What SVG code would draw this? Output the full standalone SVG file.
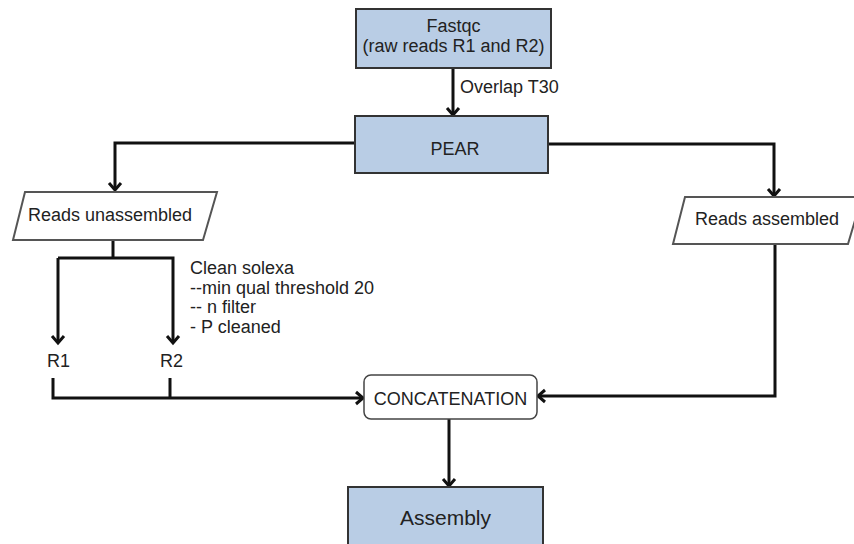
<svg xmlns="http://www.w3.org/2000/svg" width="854" height="544" viewBox="0 0 854 544">
<style>
text{font-family:"Liberation Sans",Arial,sans-serif;font-size:18px;fill:#222}
.box{fill:#b9cde5;stroke:#333;stroke-width:2}
.para{fill:#fff;stroke:#555;stroke-width:2}
.conn{fill:none;stroke:#111;stroke-width:3}
</style>
<defs>
<marker id="arr" markerUnits="userSpaceOnUse" markerWidth="16" markerHeight="16" refX="10" refY="8" orient="auto">
<path d="M3,2 L10,8 L3,14" fill="none" stroke="#111" stroke-width="3"/>
</marker>
</defs>
<rect width="854" height="544" fill="#fff"/>
<g id="connectors">
<path class="conn" d="M453,68 V115" marker-end="url(#arr)"/>
<path class="conn" d="M355,143 H115 V190" marker-end="url(#arr)"/>
<path class="conn" d="M548,144 H774 V196" marker-end="url(#arr)"/>
<path class="conn" d="M113,240 V258"/>
<path class="conn" d="M58,258 V343" marker-end="url(#arr)"/>
<path class="conn" d="M58,258 H173 V343" marker-end="url(#arr)"/>
<path class="conn" d="M53,378 V398 H363" marker-end="url(#arr)"/>
<path class="conn" d="M170,378 V398"/>
<path class="conn" d="M775,244 V396 H538" marker-end="url(#arr)"/>
<path class="conn" d="M449,419 V486" marker-end="url(#arr)"/>
<text x="460" y="93">Overlap T30</text>
<text x="190" y="274">Clean solexa</text>
<text x="190" y="293.5">--min qual threshold 20</text>
<text x="190" y="313">-- n filter</text>
<text x="190" y="333">- P cleaned</text>
</g>
<g id="fastqc">
<rect class="box" x="356" y="9" width="195" height="59"/>
<text x="453.5" y="32" text-anchor="middle">Fastqc</text>
<text x="453.5" y="52" text-anchor="middle">(raw reads R1 and R2)</text>
</g>
<g id="pear">
<rect class="box" x="355" y="116" width="193" height="57"/>
<text x="455" y="155" text-anchor="middle">PEAR</text>
</g>
<g id="reads-unassembled">
<polygon class="para" points="25,192 217,192 203,240 13,240"/>
<text x="28" y="221">Reads unassembled</text>
</g>
<g id="reads-assembled">
<polygon class="para" points="685,197 862,197 848,244 673,244"/>
<text x="695" y="225">Reads assembled</text>
</g>
<g id="r1">
<text x="47" y="367">R1</text>
</g>
<g id="r2">
<text x="160" y="367">R2</text>
</g>
<g id="concatenation">
<rect x="364" y="375" width="173" height="44" rx="7" fill="#fff" stroke="#444" stroke-width="1.5"/>
<text x="450.5" y="405" text-anchor="middle">CONCATENATION</text>
</g>
<g id="assembly">
<rect class="box" x="348" y="487" width="195" height="70"/>
<text x="445.5" y="525" text-anchor="middle" style="font-size:21px">Assembly</text>
</g>
</svg>
